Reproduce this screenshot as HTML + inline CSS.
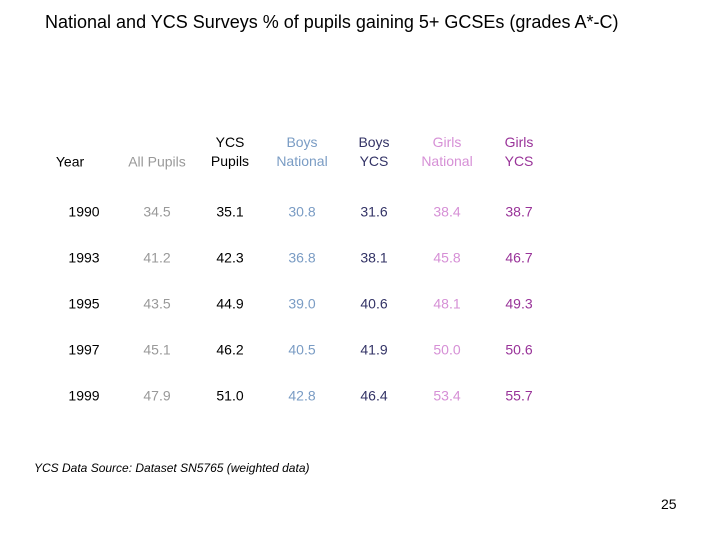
<!DOCTYPE html>
<html><head><meta charset="utf-8"><style>
body{margin:0;width:720px;height:540px;background:#fff;font-family:"Liberation Sans",sans-serif;position:relative;overflow:hidden}
.t{position:absolute;white-space:nowrap;transform:translate(-50%,-50%);font-size:14px;text-align:center;line-height:19px}
</style></head><body>
<div style="position:absolute;left:45px;top:12px;font-size:18px;color:#000">National and YCS Surveys % of pupils gaining 5+ GCSEs (grades A*-C)</div>
<div id="tbl"></div>
<div style="position:absolute;left:34px;top:461px;font-size:12px;font-style:italic">YCS Data Source: Dataset SN5765 (weighted data)</div>
<div style="position:absolute;left:661px;top:496px;font-size:14px">25</div>
<script>
const headers=["Year","All Pupils","YCS<br>Pupils","Boys<br>National","Boys<br>YCS","Girls<br>National","Girls<br>YCS"];
const years=["1990","1993","1995","1997","1999"];
const allPupils=["34.5","41.2","43.5","45.1","47.9"];
const ycsPupils=["35.1","42.3","44.9","46.2","51.0"];
const boysNational=["30.8","36.8","39.0","40.5","42.8"];
const boysYcs=["31.6","38.1","40.6","41.9","46.4"];
const girlsNational=["38.4","45.8","48.1","50.0","53.4"];
const girlsYcs=["38.7","46.7","49.3","50.6","55.7"];
const cols=[years,allPupils,ycsPupils,boysNational,boysYcs,girlsNational,girlsYcs];
const colors=["#000","#999","#000","#7a9cc4","#333366","#d690d6","#993399"];
const xs=[70,157,230,302,374,447,519];
const names=["year","all-pupils","ycs-pupils","boys-national","boys-ycs","girls-national","girls-ycs"];
const tbl=document.getElementById('tbl');
headers.forEach((h,i)=>{
  const d=document.createElement('div');d.className='t';
  
  
  d.innerHTML=h;d.style.left=xs[i]+'px';
  d.style.top=(h.includes('<br>')?152:162)+'px';d.style.color=colors[i];
  tbl.appendChild(d);
});
cols.forEach((c,i)=>c.forEach((v,r)=>{
  const d=document.createElement('div');d.className='t';
  
  
  d.textContent=v;d.style.left=(i===0?84:xs[i])+'px';d.style.top=(212+r*46)+'px';d.style.color=colors[i];
  tbl.appendChild(d);
}));
</script>
</body></html>
